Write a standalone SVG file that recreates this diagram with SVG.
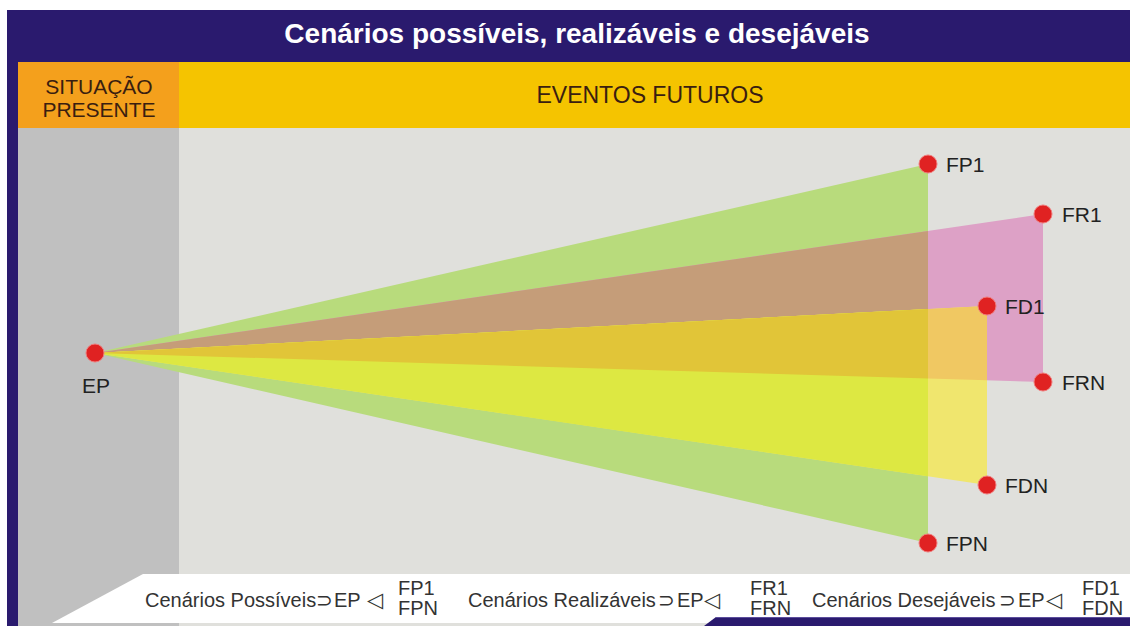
<svg xmlns="http://www.w3.org/2000/svg" width="1130" height="626" viewBox="0 0 1130 626">
<style>
.lbl{font-family:"Liberation Sans",Arial,sans-serif;font-size:21px;fill:#222}
.hdr{font-family:"Liberation Sans",Arial,sans-serif;fill:#3a1e10}
.f{font-family:"Liberation Sans",Arial,sans-serif;font-size:20px;fill:#333}
.sym{font-family:"DejaVu Sans",sans-serif;fill:#333}
.dot{fill:#e02222;stroke:#f07a7a;stroke-width:1}
</style>
<rect x="0" y="0" width="1130" height="626" fill="#ffffff"/>
<rect x="7" y="10" width="1123" height="52" fill="#2a1a6e"/>
<rect x="7" y="10" width="11" height="616" fill="#2a1a6e"/>
<rect x="18" y="62" width="161" height="66" fill="#f4a01c"/>
<rect x="179" y="62" width="951" height="66" fill="#f5c400"/>
<rect x="18" y="128" width="161" height="498" fill="#c0c0c0"/>
<rect x="179" y="128" width="951" height="498" fill="#e0e0dc"/>
<text x="577" y="43" text-anchor="middle" font-family="Liberation Sans, Arial, sans-serif" font-size="28" font-weight="bold" fill="#ffffff">Cenários possíveis, realizáveis e desejáveis</text>
<text class="hdr" x="99" y="94" text-anchor="middle" font-size="21">SITUAÇÃO</text>
<text class="hdr" x="99" y="117" text-anchor="middle" font-size="21">PRESENTE</text>
<text class="hdr" x="650" y="103" text-anchor="middle" font-size="23">EVENTOS FUTUROS</text>
<g id="fans">
<polygon points="95,353 928,164 928,543" fill="#b8db7c"/>
<polygon points="95,353 1043,214 1043,382" fill="#dda1c6"/>
<polygon points="95,353 928,230.9 928,378.5" fill="#c59d79"/>
<polygon points="95,353 987,306 987,485" fill="#f0e66e"/>
<polygon points="95,353 987,306 987,380.3" fill="#f0c862"/>
<polygon points="95,353 928,309.1 928,476.3" fill="#dde842"/>
<polygon points="95,353 928,309.1 928,378.5" fill="#e1c538"/>
</g>
<g id="EP"><circle class="dot" cx="95" cy="353" r="9"/><text class="lbl" x="96" y="393" text-anchor="middle">EP</text></g>
<g id="FP1"><circle class="dot" cx="928" cy="164" r="9"/><text class="lbl" x="946" y="172">FP1</text></g>
<g id="FR1"><circle class="dot" cx="1043" cy="214" r="9"/><text class="lbl" x="1062" y="222">FR1</text></g>
<g id="FD1"><circle class="dot" cx="987" cy="306" r="9"/><text class="lbl" x="1005" y="314">FD1</text></g>
<g id="FRN"><circle class="dot" cx="1043" cy="382" r="9"/><text class="lbl" x="1062" y="390">FRN</text></g>
<g id="FDN"><circle class="dot" cx="987" cy="485" r="9"/><text class="lbl" x="1005" y="493">FDN</text></g>
<g id="FPN"><circle class="dot" cx="928" cy="543" r="9"/><text class="lbl" x="946" y="551">FPN</text></g>
<polygon points="143,574 1130,574 1130,623 52,623" fill="#ffffff"/>
<polygon points="716,617 1130,617 1130,626 704,626" fill="#2a1a6e"/>
<line x1="716" y1="617.5" x2="1130" y2="617.5" stroke="#5b4c9c" stroke-width="1"/>
<g id="legend">
<text class="f" x="145" y="607">Cenários Possíveis</text>
<text class="sym" x="316" y="607" font-size="20">⊃</text>
<text class="f" x="334" y="607">EP</text>
<text class="sym" x="367" y="607" font-size="21">◁</text>
<text class="f" x="398" y="595">FP1</text>
<text class="f" x="398" y="615">FPN</text>
<text class="f" x="468" y="607">Cenários Realizáveis</text>
<text class="sym" x="658" y="607" font-size="20">⊃</text>
<text class="f" x="677" y="607">EP</text>
<text class="sym" x="704" y="607" font-size="21">◁</text>
<text class="f" x="750" y="595">FR1</text>
<text class="f" x="750" y="615">FRN</text>
<text class="f" x="812" y="607">Cenários Desejáveis</text>
<text class="sym" x="999" y="607" font-size="20">⊃</text>
<text class="f" x="1018" y="607">EP</text>
<text class="sym" x="1046" y="607" font-size="21">◁</text>
<text class="f" x="1082" y="595">FD1</text>
<text class="f" x="1082" y="615">FDN</text>
</g>
</svg>
